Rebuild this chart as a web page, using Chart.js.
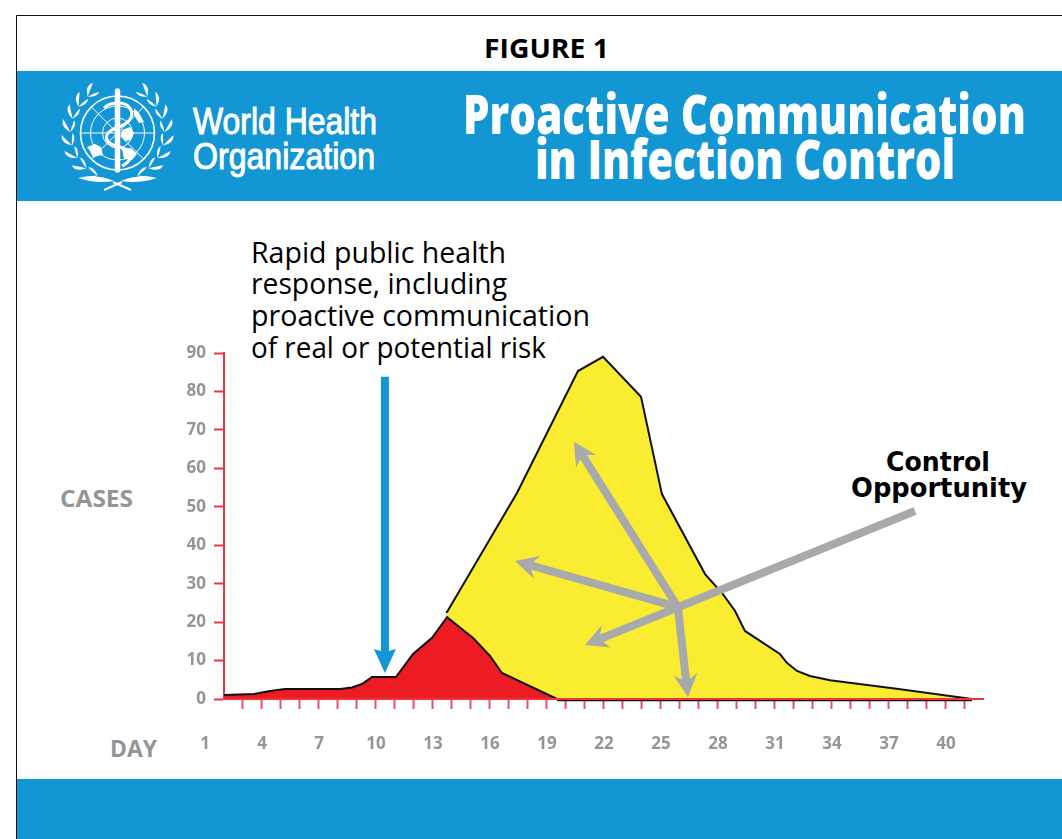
<!DOCTYPE html>
<html><head><meta charset="utf-8">
<script src="https://cdn.jsdelivr.net/npm/chart.js@4"></script>
<style>
html,body{margin:0;padding:0;background:#fff;overflow:hidden}
#wrap{position:relative;width:1062px;height:839px}
#bg,#c{position:absolute;left:0;top:0}
</style></head><body>
<div id="wrap">
<svg id="bg" width="1062" height="839" xmlns="http://www.w3.org/2000/svg">
  <path d="M1062 15.5H16.5V839" fill="none" stroke="#111" stroke-width="1"/>
  <rect x="17" y="71" width="1045" height="130" fill="#1296D4"/>
  <rect x="17" y="779" width="1045" height="60" fill="#1296D4"/>
  <g id="logo" fill="none" stroke="#fff"></g>
  <g font-family="'Open Sans'" font-weight="700" fill="#000">
    <text x="484" y="58" font-size="27" textLength="125" lengthAdjust="spacingAndGlyphs">FIGURE 1</text>
  </g>
  <g font-family="'Liberation Sans'" fill="#fff" stroke="#fff" stroke-width="1" font-size="37">
    <text x="193" y="134" textLength="184" lengthAdjust="spacingAndGlyphs">World Health</text>
    <text x="193" y="169" textLength="182" lengthAdjust="spacingAndGlyphs">Organization</text>
  </g>
  <g font-family="'Open Sans'" font-weight="800" fill="#fff" font-size="55">
    <text x="463" y="134" textLength="563" lengthAdjust="spacingAndGlyphs">Proactive Communication</text>
    <text x="535" y="179" textLength="420" lengthAdjust="spacingAndGlyphs">in Infection Control</text>
  </g>
  <g font-family="'Open Sans'" fill="#000" font-size="29">
    <text x="251" y="263" textLength="255" lengthAdjust="spacingAndGlyphs">Rapid public health</text>
    <text x="251" y="294" textLength="256" lengthAdjust="spacingAndGlyphs">response, including</text>
    <text x="251" y="326" textLength="339" lengthAdjust="spacingAndGlyphs">proactive communication</text>
    <text x="251" y="358" textLength="295" lengthAdjust="spacingAndGlyphs">of real or potential risk</text>
  </g>
  <g font-family="'DejaVu Sans'" font-weight="700" fill="#000" font-size="27">
    <text x="886" y="471" textLength="104" lengthAdjust="spacingAndGlyphs">Control</text>
    <text x="851" y="497" textLength="176" lengthAdjust="spacingAndGlyphs">Opportunity</text>
  </g>
  <g font-family="'Open Sans'" font-weight="700" fill="#939598" font-size="23">
    <text x="60" y="507" textLength="73" lengthAdjust="spacingAndGlyphs">CASES</text>
    <text x="110" y="757" textLength="47" lengthAdjust="spacingAndGlyphs">DAY</text>
  </g>
</svg>
<canvas id="c" width="1062" height="839"></canvas>
</div>
<script>
const dayTicks = [1,2,3,4,5,6,7,8,9,10,11,12,13,14,15,16,17,18,19,20,21,22,23,24,25,26,27,28,29,30,31,32,33,34,35,36,37,38,39,40,41];
const caseTicks = [0,10,20,30,40,50,60,70,80,90];
const redDays  = [2.0,3.58,4.42,5.21,8.11,8.74,9.26,9.79,11.05,11.95,12.95,13.74,15.11,16.0,16.63,19.53];
const redCases = [1.04,1.3,2.08,2.6,2.6,3.0,3.9,5.72,5.72,11.7,15.9,21.3,15.9,11.2,6.76,0];
const yellowDays  = [13.68,13.74,17.42,20.63,21.95,23.95,25.05,27.32,28.26,28.9,29.42,31.26,31.63,32.16,32.84,33.9,37.5,41.37];
const yellowCases = [22.6,22.6,53.6,85.3,89,78.6,53.3,32.5,27.3,22.9,17.7,11.7,9.4,7.3,6.0,4.9,2.6,0];
const floorDays  = [19.53,41.37];
const floorCases = [-0.35,-0.35];
// arrows: [tail day, tail cases, tip day, tip cases]
const grayArrows = [[38.37,48.9,21.0,14.05],[25.89,23.9,20.42,66.9],[25.89,23.9,17.32,35.9],[25.89,23.9,26.42,0.5]];
const blueArrow  = [10.47,83.8,10.47,6.76];

const pts = (xs,ys)=>xs.map((x,i)=>({x,y:ys[i]}));

const arrowPlugin = {
  id:'arrows',
  afterDatasetsDraw(chart){
    const {ctx,scales:{x,y}}=chart;
    const draw=(a,color,w,hl,hw,notch)=>{
      const x0=x.getPixelForValue(a[0]),y0=y.getPixelForValue(a[1]),
            x1=x.getPixelForValue(a[2]),y1=y.getPixelForValue(a[3]);
      const ang=Math.atan2(y1-y0,x1-x0),len=Math.hypot(x1-x0,y1-y0);
      ctx.save();ctx.translate(x0,y0);ctx.rotate(ang);ctx.fillStyle=color;
      ctx.beginPath();
      ctx.moveTo(0,-w/2);ctx.lineTo(len-hl+notch,-w/2);ctx.lineTo(len-hl,-hw/2);
      ctx.lineTo(len,0);
      ctx.lineTo(len-hl,hw/2);ctx.lineTo(len-hl+notch,w/2);ctx.lineTo(0,w/2);
      ctx.closePath();ctx.fill();ctx.restore();
    };
    draw(blueArrow,'#1296D4',8,24,22,2);
    grayArrows.forEach(a=>draw(a,'#A7A9AC',8,23,24,5));
  }
};

new Chart(document.getElementById('c'),{
  type:'scatter',
  plugins:[arrowPlugin],
  data:{datasets:[
    {label:'Cases (early)',data:pts(redDays,redCases),showLine:true,fill:'origin',backgroundColor:'#ED1C24',borderColor:'#111',borderWidth:2,pointRadius:0,tension:0,clip:false},
    {label:'Cases (late)',data:pts(yellowDays,yellowCases),showLine:true,fill:'origin',backgroundColor:'#F9EC31',borderColor:'#111',borderWidth:2,pointRadius:0,tension:0,clip:false},
    {label:'Floor',data:pts(floorDays,floorCases),showLine:true,fill:false,borderColor:'#111',borderWidth:2,pointRadius:0,tension:0,clip:false}
  ]},
  options:{
    responsive:false,animation:false,devicePixelRatio:1,
    layout:{autoPadding:false,padding:{left:0,top:353,right:79,bottom:80}},
    plugins:{legend:{display:false},title:{display:false},tooltip:{enabled:false}},
    scales:{
      x:{type:'linear',min:2,max:41.95,
        afterBuildTicks(s){s.ticks=dayTicks.map(value=>({value}));},
        afterFit(s){s.height=60;},
        border:{color:'#EF3340',width:2,z:1},
        grid:{drawOnChartArea:false,drawTicks:true,tickLength:10,tickWidth:2,
          tickColor:c=>(c.tick&&c.tick.value>=3)?'#F2505E':'rgba(0,0,0,0)'},
        ticks:{autoSkip:false,maxRotation:0,padding:25,color:'#939598',
          font:{family:"'Open Sans'",weight:'700',size:17},
          callback:v=>((v-1)%3===0 && v<41)?String(v):''}
      },
      y:{type:'linear',min:0,max:90,
        afterBuildTicks(s){s.ticks=caseTicks.map(value=>({value}));},
        afterFit(s){s.width=224;},
        border:{color:'#EF3340',width:2},
        grid:{drawOnChartArea:false,drawTicks:true,tickLength:10,tickWidth:2,tickColor:'#EF3340'},
        ticks:{padding:8,color:'#939598',font:{family:"'Open Sans'",weight:'700',size:17}}
      }
    }
  }
});

// WHO-style emblem (decorative)
(function(){
  const NS='http://www.w3.org/2000/svg',g=document.getElementById('logo');
  const add=(tag,attrs)=>{const e=document.createElementNS(NS,tag);for(const k in attrs)e.setAttribute(k,attrs[k]);g.appendChild(e);return e;};
  const cx=117.5,cy=133;
  [37,27,15].forEach(r=>add('circle',{cx,cy,r,'stroke-width':r===37?1.6:1}));
  add('path',{d:`M${cx-37} ${cy}H${cx+37}`,'stroke-width':1});
  add('path',{d:`M${cx-26} ${cy-26}L${cx+26} ${cy+26}M${cx+26} ${cy-26}L${cx-26} ${cy+26}`,'stroke-width':1});
  add('path',{d:'M87 147l8-3 6 3 2 8-6 1-4 2-3-7z',fill:'#fff',stroke:'none'});
  add('path',{d:'M122 130l8-3 4 6-3 7-6 1-4-5z',fill:'#fff',stroke:'none'});
  add('path',{d:'M122 149l9-1 6 6-5 6-8-1z',fill:'#fff',stroke:'none'});
  add('path',{d:'M134 108l5 5 5 9-5 1-5-8z',fill:'#fff',stroke:'none'});
  add('path',{d:`M${cx} 91V170`,'stroke-width':5.5,'stroke-linecap':'round'});
  add('path',{d:'M104 108c6-6 20-7 25-1 6 7 2 15-8 19-12 4-16 8-14 14 2 6 14 6 20 10 7 5 3 12-5 16','stroke-width':3});
  // laurels
  [-1,1].forEach(side=>{
    for(let i=0;i<8;i++){
      const t=(155-i*16.5)*Math.PI/180, R=47;
      const X=v=>(cx+side*v).toFixed(1);
      const px=R*Math.sin(t),py=cy-R*Math.cos(t);
      const dx=-Math.cos(t),dy=-Math.sin(t),nx=Math.sin(t),ny=-Math.cos(t);
      [[13,7.5],[12,-3.5]].forEach(([L,N])=>{
        const ex=px+dx*L+nx*N,ey=py+dy*L+ny*N;
        const m1x=px+dx*L*.4+nx*(N+3),m1y=py+dy*L*.4+ny*(N+3);
        const m2x=px+dx*L*.6+nx*(N-3),m2y=py+dy*L*.6+ny*(N-3);
        add('path',{d:`M${X(px)} ${py.toFixed(1)}Q${X(m1x)} ${m1y.toFixed(1)} ${X(ex)} ${ey.toFixed(1)}Q${X(m2x)} ${m2y.toFixed(1)} ${X(px)} ${py.toFixed(1)}Z`,fill:'#fff',stroke:'none'});
      });
    }
  });
  add('path',{d:'M78 178q18 6 36 3q-16-7-36-3zM157 178q-18 6-36 3q16-7 36-3z',fill:'#fff',stroke:'none'});
  add('path',{d:'M104 190l18-8M131 190l-18-8','stroke-width':2});
})();
</script>
</body></html>
